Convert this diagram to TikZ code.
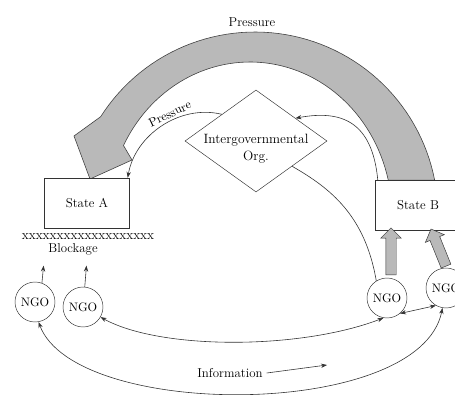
\documentclass[tikz,border=0pt]{standalone}
\usetikzlibrary{arrows.meta,shapes.geometric,shapes.arrows}

\begin{document}
\begin{tikzpicture}[x=0.03cm,y=-0.03cm,
  every node/.style={font=\fontsize{11}{13}\selectfont},
  state/.style={draw=black!80, rectangle, fill=white, minimum width=2.55cm, minimum height=1.5cm},
  ngo/.style={draw=black!80, circle, fill=white, minimum size=1.2cm, inner sep=0pt, font=\fontsize{10.5}{12}\selectfont},
  org/.style={draw=black!80, diamond, minimum width=4.26cm, minimum height=3.06cm, inner sep=0pt},
  flow/.style={draw=black!80, line width=0.5pt, -{Stealth[length=1.8mm,width=1.3mm]}},
  info/.style={draw=black!80, line width=0.5pt, {Stealth[length=1.8mm,width=1.3mm]}-{Stealth[length=1.8mm,width=1.3mm]}},
  push/.style={draw=black!80, fill=gray!55, single arrow, inner sep=0.15cm, single arrow head extend=0.15cm},
]
  \useasboundingbox (0,0) rectangle (455,394);

  % Big pressure arrow, State B -> State A
  \filldraw[draw=black!75, fill=gray!55, line width=0.5pt]
    plot[domain=-11:-147.5, samples=60] ({255+183*cos(\x)},{215+183*sin(\x)})
    -- (74,136) -- (90,179) -- (132,160) -- (123.5,145.5)
    -- plot[domain=-153:-13.2, samples=60] ({250+142*cos(\x)},{215+153*sin(\x)})
    -- cycle;

  % Nodes
  \node (pressTop) at (252,22) {Pressure};
  \node[state] (stateA) at (87,203) {State A};
  \node[state, minimum width=2.58cm] (stateB) at (418,205) {State B};
  \node[org] (igo) at (256,141) {};
  \node[align=center, font=\fontsize{11.5}{14.5}\selectfont] (igoText) at (256,149) {Intergovernmental\\Org.};

  \node[font=\fontsize{11.5}{12}\selectfont, inner sep=0pt] (block) at (88,237) {xxxxxxxxxxxxxxxxxxx};
  \node (blockLbl) at (73,249) {Blockage};

  \node[ngo] (ngo1) at (35,302) {NGO};
  \node[ngo] (ngo2) at (83,307) {NGO};
  \node[ngo] (ngo3) at (387,298) {NGO};
  \node[ngo] (ngo4) at (446,288) {NGO};

  \node (infoLbl) at (230,373) {Information};
  \coordinate (infoEnd) at (327,365);

  % Pushes from NGOs to State B
  \node[push, rotate=90, minimum height=1.41cm] (push1) at (391,254) {};
  \node[push, rotate=112, minimum height=1.2cm] (push2) at (439.5,250) {};

  % Edges
  \draw[flow] ([xshift=0.09cm]stateB.north west) .. controls (372,120) and (340,110) .. (igo.30);
  \draw[flow] (igo.142) .. controls (180,104) and (135,135) .. ([xshift=-0.06cm]stateA.north east)
    node[pos=0.4, above=1pt, sloped, font=\fontsize{10.5}{12}\selectfont, inner sep=1pt] {Pressure};
  \draw[draw=black!80, line width=0.5pt] (ngo3.122) .. controls (365,215) and (330,188) .. (igo.-35);

  \draw[flow, shorten >=2mm] (ngo1.70) -- (blockLbl.south west);
  \draw[flow, shorten >=2mm] (ngo2.85) -- ([xshift=0.42cm]blockLbl.south);

  \draw[info] (ngo2.-30) .. controls (160,350) and (300,350) .. (ngo3.-100);
  \draw[info] (ngo1.-80) .. controls (75,420) and (420,420) .. (ngo4.-100);
  \draw[info] (ngo3.-50) -- (ngo4.-120);
  \draw[flow] (infoLbl.east) -- (infoEnd);
\end{tikzpicture}
\end{document}
